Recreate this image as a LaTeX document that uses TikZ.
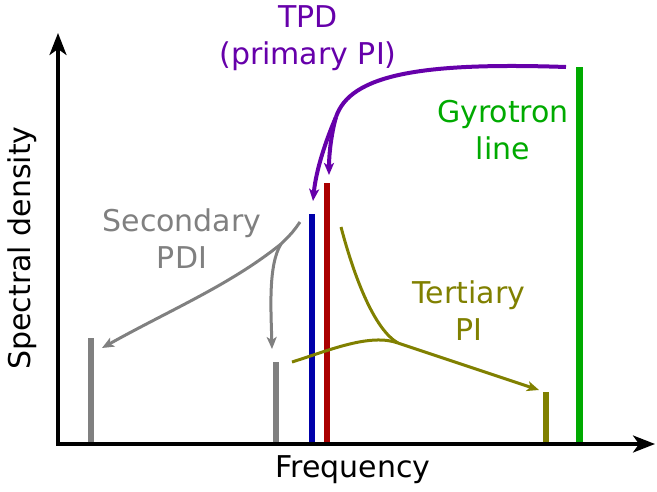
\documentclass[tikz,border=0pt]{standalone}
\usepackage{fontspec}
\setmainfont{DejaVu Sans}
\usetikzlibrary{arrows.meta}
\definecolor{cpurple}{HTML}{6600AA}
\definecolor{cgreen}{HTML}{00AA00}
\definecolor{cgray}{HTML}{808080}
\definecolor{colive}{HTML}{808000}
\definecolor{cblue}{HTML}{0000AA}
\definecolor{cred}{HTML}{AA0000}
\begin{document}
\begin{tikzpicture}[x=1pt,y=-1pt,
  lbl/.style={font=\fontsize{30}{37}\selectfont, inner sep=0pt, align=center},
  bar/.style={line width=6pt},
  conn/.style={line width=3pt, line join=round, -{Stealth[length=12pt,width=10pt,inset=3pt]}},
  plain/.style={line width=3pt, line join=round},
  axis/.style={line width=3.3pt, -{Stealth[length=22pt,width=17pt,inset=6pt]}}]
\useasboundingbox (0,0) rectangle (657,491);
% axes
\coordinate (o) at (56,444);
\coordinate (ytop) at (58,33);
\coordinate (xend) at (655,444);
\draw[axis] (58,445.6) -- (ytop);
\draw[axis] (o) -- (xend);
\node[lbl] (freq) at (353,470) {Frequency};
\node[lbl, rotate=90] (spec) at (22,248) {Spectral density};
% bars
\coordinate (g1b) at (91,442); \coordinate (g1t) at (91,338);
\coordinate (g2b) at (276,442); \coordinate (g2t) at (276,362);
\coordinate (bb) at (312,442); \coordinate (bt) at (312,214);
\coordinate (rb) at (327,442); \coordinate (rt) at (327,183);
\coordinate (ob) at (546,442); \coordinate (ot) at (546,392);
\coordinate (gb) at (579,442); \coordinate (gt) at (579,67);
\draw[bar, cgray] (g1b) -- (g1t);
\draw[bar, cgray] (g2b) -- (g2t);
\draw[bar, cblue] (bb) -- (bt);
\draw[bar, cred] (rb) -- (rt);
\draw[bar, colive] (ob) -- (ot);
\draw[line width=7pt, cgreen] (gb) -- (gt);
% labels
\node[lbl, text=cpurple] (tpd) at (308,38) {TPD\\(primary PI)};
\node[lbl, text=cgreen] (gyro) at (503,130) {Gyrotron\\line};
\node[lbl, text=cgray] (sec) at (182,239) {Secondary\\PDI};
\node[lbl, text=colive] (ter) at (469,311) {Tertiary\\PI};
% purple connectors
\coordinate (ps) at (566,67);
\coordinate (pj) at (336,117);
\coordinate (pa) at (313,201);
\coordinate (pb) at (329,175);
\draw[plain, line width=4pt, cpurple] (ps) .. controls (420,62) and (350,75) .. (pj);
\draw[conn, line width=4pt, cpurple] (pj) .. controls (326,140) and (316,170) .. (pa);
\draw[conn, line width=4pt, cpurple] (pj) .. controls (331,135) and (329,155) .. (pb);
% gray connectors
\coordinate (gs) at (300,222);
\coordinate (gj) at (281,244);
\coordinate (ga) at (102,348);
\coordinate (gb2) at (272,349);
\draw[plain, cgray] (gs) .. controls (293,232) .. (gj);
\draw[conn, cgray] (gj) .. controls (230,285) and (170,310) .. (ga);
\draw[conn, cgray] (gj) .. controls (268,265) and (271,310) .. (gb2);
% olive connectors
\coordinate (os) at (341,227);
\coordinate (oj) at (398,343);
\coordinate (os2) at (292,362);
\coordinate (oa) at (539,390);
\draw[plain, colive] (os) .. controls (355,280) and (375,330) .. (oj);
\draw[plain, colive] (os2) .. controls (330,350) and (370,333) .. (oj);
\draw[conn, colive] (oj) -- (oa);
\end{tikzpicture}
\end{document}
